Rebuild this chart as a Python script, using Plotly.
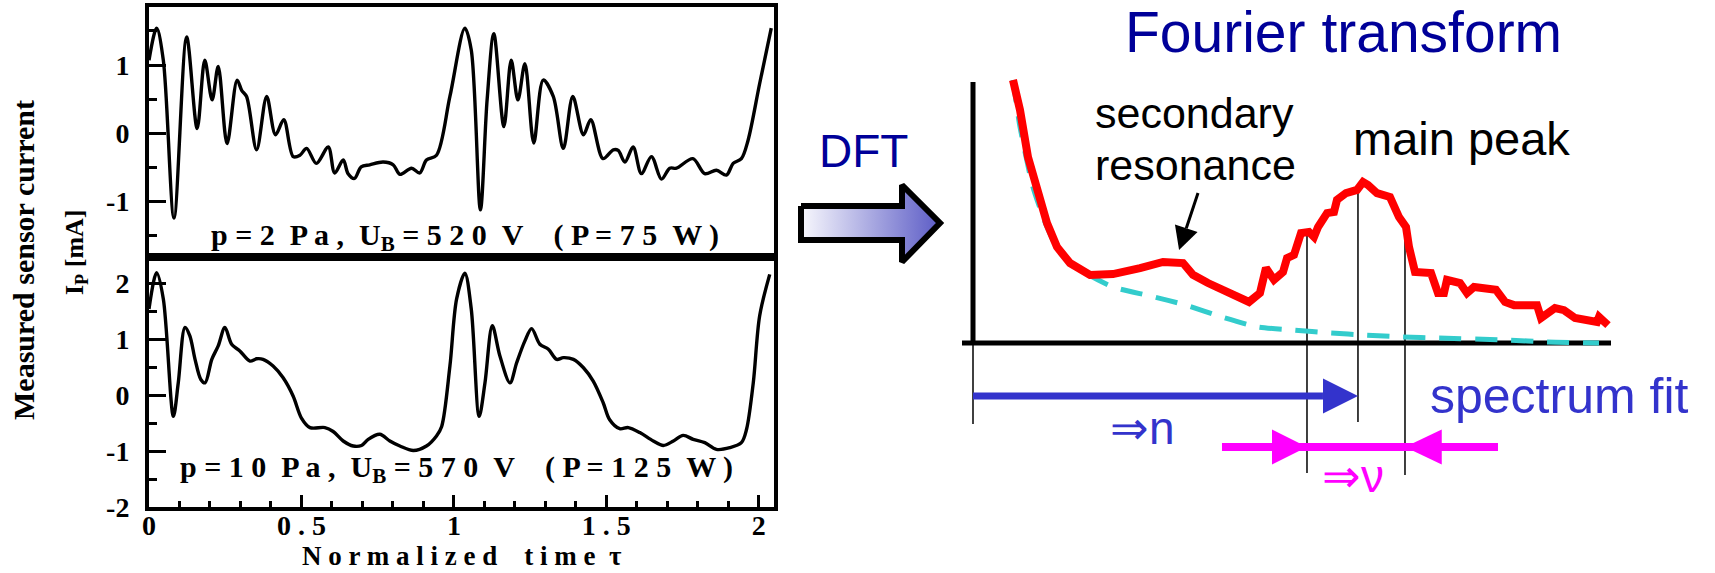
import numpy as np
import plotly.graph_objects as go

W, H = 1715, 573

# Probe current over two normalized RF periods, p = 2 Pa
tau_2pa = [0.0, 0.025, 0.047, 0.082, 0.1235, 0.158, 0.183, 0.207, 0.227, 0.256,
           0.289, 0.304, 0.320, 0.353, 0.386, 0.415, 0.442, 0.473, 0.495, 0.517,
           0.549, 0.588, 0.609, 0.637, 0.653, 0.674, 0.696, 0.724, 0.768, 0.801,
           0.823, 0.861, 0.888, 0.910, 0.943, 0.987, 1.036, 1.057, 1.087, 1.109,
           1.131, 1.164, 1.188, 1.210, 1.233, 1.262, 1.293, 1.326, 1.359, 1.390,
           1.425, 1.449, 1.489, 1.523, 1.539, 1.561, 1.588, 1.615, 1.648, 1.681,
           1.708, 1.730, 1.784, 1.823, 1.861, 1.894, 1.916, 1.943, 1.965, 2.003,
           2.041]
ip_2pa = [1.07, 1.54, 1.07, -1.24, 1.41, 0.07, 1.07, 0.49, 0.98, -0.15,
          0.78, 0.63, 0.54, -0.24, 0.54, -0.02, 0.20, -0.34, -0.32, -0.22,
          -0.44, -0.20, -0.58, -0.39, -0.59, -0.66, -0.49, -0.46, -0.42, -0.46,
          -0.60, -0.51, -0.58, -0.39, -0.32, 0.54, 1.54, 1.22, -1.12, 0.49,
          1.46, 0.10, 1.07, 0.49, 1.02, -0.14, 0.78, 0.54, -0.22, 0.54,
          -0.02, 0.20, -0.37, -0.24, -0.25, -0.42, -0.20, -0.59, -0.34, -0.67,
          -0.51, -0.51, -0.37, -0.59, -0.54, -0.61, -0.44, -0.37, -0.10, 0.73,
          1.54]

# Probe current over two normalized RF periods, p = 10 Pa
tau_10pa = [0.0, 0.025, 0.047, 0.080, 0.096, 0.118, 0.134, 0.151, 0.170, 0.184,
            0.206, 0.227, 0.249, 0.271, 0.298, 0.331, 0.353, 0.374, 0.407, 0.440,
            0.473, 0.500, 0.528, 0.577, 0.604, 0.637, 0.670, 0.697, 0.719, 0.757,
            0.790, 0.823, 0.867, 0.910, 0.943, 0.960, 0.987, 1.009, 1.036, 1.057,
            1.083, 1.102, 1.126, 1.151, 1.184, 1.206, 1.233, 1.255, 1.282, 1.310,
            1.337, 1.359, 1.392, 1.425, 1.457, 1.490, 1.511, 1.544, 1.572, 1.610,
            1.654, 1.687, 1.720, 1.752, 1.785, 1.823, 1.861, 1.905, 1.943, 1.960,
            1.982, 2.003, 2.036]
ip_10pa = [1.54, 2.19, 1.72, -0.38, 0.22, 1.21, 1.06, 0.64, 0.28, 0.22,
           0.64, 0.88, 1.21, 0.91, 0.79, 0.61, 0.65, 0.64, 0.52, 0.31,
           -0.02, -0.41, -0.58, -0.58, -0.65, -0.82, -0.91, -0.90, -0.79, -0.70,
           -0.82, -0.91, -0.99, -0.91, -0.73, -0.56, 0.52, 1.72, 2.18, 1.54,
           -0.38, 0.22, 1.24, 0.70, 0.22, 0.58, 0.97, 1.19, 0.91, 0.82,
           0.64, 0.67, 0.64, 0.49, 0.25, -0.14, -0.44, -0.60, -0.58, -0.67,
           -0.82, -0.90, -0.82, -0.72, -0.79, -0.85, -0.97, -0.94, -0.85, -0.61,
           0.22, 1.42, 2.16]

# Sketch of the Fourier spectrum (arbitrary units, frequency axis 0..100)
spec_freq = [6.27, 7.37, 8.62, 10.03, 11.60, 13.17, 15.20, 18.34, 21.94, 26.18,
             29.78, 32.92, 34.48, 36.83, 41.22, 43.26, 44.98, 45.92, 47.18, 48.59,
             49.22, 50.31, 51.41, 52.66, 53.45, 54.08, 55.49, 56.58, 57.05, 58.46,
             60.19, 61.13, 61.91, 63.32, 65.36, 66.77, 67.87, 68.34, 69.28, 71.79,
             72.88, 73.82, 74.29, 76.33, 77.43, 78.53, 81.97, 83.39, 84.80, 88.40,
             89.03, 89.81, 91.22, 92.63, 94.36, 97.81, 98.12, 99.53]
spec_amp = [100.0, 88.6, 70.7, 58.2, 45.6, 36.5, 30.4, 25.9, 26.2, 28.5,
            30.8, 30.4, 25.9, 22.8, 18.3, 15.6, 19.0, 28.5, 24.0, 27.0,
            32.3, 33.5, 41.8, 42.2, 40.3, 44.1, 49.4, 49.8, 54.4, 57.0,
            58.2, 61.2, 60.1, 57.0, 55.5, 47.9, 44.1, 36.5, 27.0, 26.6,
            19.0, 19.0, 24.0, 22.8, 19.0, 21.3, 20.2, 15.6, 14.4, 14.4,
            9.5, 10.6, 13.3, 12.5, 9.5, 8.0, 9.9, 6.8]

# Smooth background under the spectrum
bg_freq = [6.27, 7.37, 9.40, 11.60, 13.64, 16.77, 21.94, 27.74, 33.39, 39.03,
           44.67, 50.31, 55.96, 61.60, 67.24, 72.88, 84.17, 89.81, 98.12]
bg_amp = [100.0, 82.1, 59.3, 44.1, 34.2, 27.8, 21.3, 17.9, 14.4, 9.9,
          6.1, 4.9, 3.8, 3.0, 2.3, 1.9, 1.1, 0.4, 0.0]

# Frequencies marked by the fit: lower edge, peak, upper edge
fit_lower, fit_peak, fit_upper = 52.35, 60.34, 67.71

x_tickvals = [0, 0.5, 1, 1.5, 2]
x_ticktext = ["0", "0 . 5", "1", "1 . 5", "2"]
top_tickvals = [-1, 0, 1]
bottom_tickvals = [-2, -1, 0, 1, 2]

SERIF = "Liberation Serif"
SANS = "Liberation Sans"
NAVY = "#000099"
BLUE = "#3333CC"
MAGENTA = "#FF00FF"


def px(x):
    return x / W


def py(y):
    return 1 - y / H


# frame of the spectrum sketch: origin and unit lengths in pixels
ORIGIN_X, ORIGIN_Y = 973, 343
PX_PER_F, PX_PER_A = 6.38, 2.63


def fx(x):
    return (x - ORIGIN_X) / PX_PER_F


def ay(y):
    return (ORIGIN_Y - y) / PX_PER_A


LEFT, RIGHT = 149, 774
TOP, MID, BOT = 7, 257, 507

TICK_SIZE = 28
frame = dict(showline=True, linewidth=4, linecolor="black", mirror=True,
             showgrid=False, zeroline=False, automargin=False)
tickfont = dict(family=SERIF, size=TICK_SIZE, color="black")
ytick = dict(ticks="inside", ticklen=17, tickwidth=3, tickcolor="black",
             tickfont=tickfont, ticklabelstandoff=10)


def bold_ticks(vals):
    return ["<b>" + str(v).replace("\u2212", "-") + "</b>" for v in vals]


fig = go.Figure()

wave = dict(color="black", width=3.4, shape="spline", smoothing=0.9)
fig.add_trace(go.Scatter(x=tau_2pa, y=ip_2pa, mode="lines", line=wave,
                         xaxis="x", yaxis="y", hoverinfo="skip"))
fig.add_trace(go.Scatter(x=tau_10pa, y=ip_10pa, mode="lines", line=wave,
                         xaxis="x2", yaxis="y2", hoverinfo="skip"))

# spectrum sketch
fig.add_trace(go.Scatter(x=bg_freq, y=bg_amp, mode="lines",
                         line=dict(color="#33CCCC", width=5, dash="22px,14px",
                                   shape="spline", smoothing=0.6),
                         xaxis="x3", yaxis="y3", hoverinfo="skip"))
fig.add_trace(go.Scatter(x=spec_freq, y=spec_amp, mode="lines",
                         line=dict(color="#FF0000", width=8),
                         xaxis="x3", yaxis="y3", hoverinfo="skip"))

# block arrow "DFT"
arrow_outline = [(801, 206), (902, 206), (902, 185), (940, 223), (902, 262),
                 (902, 240), (801, 240), (801, 206)]
fig.add_trace(go.Scatter(
    x=[fx(p[0]) for p in arrow_outline], y=[ay(p[1]) for p in arrow_outline],
    mode="lines", fill="toself",
    fillgradient=dict(type="horizontal",
                      colorscale=[[0, "#f8f8fd"], [1, "#5c5cc6"]]),
    line=dict(color="black", width=6),
    xaxis="x3", yaxis="y3", hoverinfo="skip"))

shapes = []


def seg(x0, y0, x1, y1, color, width, ref="3", layer="below"):
    xr, yr = ("paper", "paper") if ref == "paper" else ("x" + ref, "y" + ref)
    shapes.append(dict(type="line", xref=xr, yref=yr, x0=x0, y0=y0, x1=x1, y1=y1,
                       line=dict(color=color, width=width), layer=layer))


def tri(pts, color, ref="3"):
    xr, yr = ("paper", "paper") if ref == "paper" else ("x" + ref, "y" + ref)
    path = "M " + " L ".join(f"{x:.4f},{y:.4f}" for x, y in pts) + " Z"
    shapes.append(dict(type="path", xref=xr, yref=yr, path=path,
                       fillcolor=color, line=dict(width=0), layer="above"))


# sketch axes
seg(fx(962), 0, 100, 0, "black", 5)
seg(0, 0, 0, ay(82), "black", 5)
seg(0, 0, 0, ay(424), "black", 1.5)

# marker lines from the curve down to the arrows
for f, y_end in [(fit_lower, ay(473)), (fit_peak, ay(422)), (fit_upper, ay(475))]:
    seg(f, float(np.interp(f, spec_freq, spec_amp)), f, y_end, "black", 1.5)

head_f = 35 / PX_PER_F
half_a = 17.5 / PX_PER_A

# n: arrow from origin to the main peak
a_n = ay(396)
seg(0, a_n, fit_peak - head_f, a_n, BLUE, 7, layer="above")
tri([(fit_peak, a_n), (fit_peak - head_f, a_n + half_a),
     (fit_peak - head_f, a_n - half_a)], BLUE)

# nu: width of the resonance between the two marker lines
a_v = ay(447)
seg(fit_lower - 85 / PX_PER_F, a_v, fit_upper + 93 / PX_PER_F, a_v, MAGENTA, 8,
    layer="above")
tri([(fit_lower, a_v), (fit_lower - head_f, a_v + half_a),
     (fit_lower - head_f, a_v - half_a)], MAGENTA)
tri([(fit_upper, a_v), (fit_upper + head_f * 1.05, a_v + half_a),
     (fit_upper + head_f * 1.05, a_v - half_a)], MAGENTA)

# pointer to the secondary resonance
tail = np.array([1198.0, 193.0])
tip = np.array([1179.0, 250.0])
u = (tip - tail) / np.linalg.norm(tip - tail)
nrm = np.array([-u[1], u[0]])
base = tip - 23 * u
seg(px(tail[0]), py(tail[1]), px(base[0]), py(base[1]), "black", 3, ref="paper",
    layer="above")
tri([(px(tip[0]), py(tip[1])),
     (px((base + 12 * nrm)[0]), py((base + 12 * nrm)[1])),
     (px((base - 12 * nrm)[0]), py((base - 12 * nrm)[1]))], "black", ref="paper")

annotations = []


def label(text, x, baseline, size, color="black", family=SANS, bold=False):
    if bold:
        text = "<b>" + text + "</b>"
    annotations.append(dict(
        text=text, xref="paper", yref="paper", x=px(x), y=py(baseline - 0.35 * size),
        xanchor="center", yanchor="middle", showarrow=False,
        font=dict(family=family, size=size, color=color)))


label("Fourier transform", 1343, 52.3, 57, NAVY)
label("DFT", 863, 167, 46, NAVY)
label("secondary", 1194, 128, 43)
label("resonance", 1195, 180, 43)
label("main peak", 1461, 155, 47)
label("spectrum fit", 1559, 413, 50, BLUE)
label("\u21d2n", 1142, 444, 46, BLUE)
label("\u21d2\u03bd", 1353, 492, 46, MAGENTA)

nb = "\u00a0"
label(f"p = 2{nb}{nb}P a ,{nb}{nb}U<sub>B</sub> = 5 2 0{nb}{nb}V{nb}{nb}{nb}{nb}( P = 7 5{nb}{nb}W )",
      465, 248, 30, family=SERIF, bold=True)
label(f"p = 1 0{nb}{nb}P a ,{nb}{nb}U<sub>B</sub> = 5 7 0{nb}{nb}V{nb}{nb}{nb}{nb}( P = 1 2 5{nb}{nb}W )",
      456, 480, 30, family=SERIF, bold=True)

# axis titles
annotations.append(dict(text="<b>Measured sensor current</b>", xref="paper", yref="paper",
                        x=px(23), y=py(260), xanchor="center", yanchor="middle",
                        textangle=-90, showarrow=False,
                        font=dict(family=SERIF, size=30, color="black")))
annotations.append(dict(text="<b>I<sub>P</sub> [mA]</b>", xref="paper", yref="paper",
                        x=px(76), y=py(252), xanchor="center", yanchor="middle",
                        textangle=-90, showarrow=False,
                        font=dict(family=SERIF, size=26, color="black")))
label(f"N o r m a l i z e d{nb}{nb}{nb}{nb}t i m e{nb}{nb}\u03c4", 462, 565.5, 27,
      family=SERIF, bold=True)

fig.update_layout(
    width=W, height=H, margin=dict(l=0, r=0, t=0, b=0, pad=0, autoexpand=False),
    font=dict(family=SERIF, size=TICK_SIZE, color="black"),
    paper_bgcolor="white", plot_bgcolor="white", showlegend=False,
    xaxis=dict(domain=[px(LEFT), px(RIGHT)], anchor="y", range=[0, 2.05],
               showticklabels=False, ticks="", **frame),
    yaxis=dict(domain=[py(MID), py(TOP)], anchor="x", range=[-1.81, 1.85],
               tickvals=top_tickvals, ticktext=bold_ticks(top_tickvals),
               minor=dict(tickvals=[-1.5, -0.5, 0.5, 1.5], ticks="inside",
                          ticklen=8, tickwidth=3, tickcolor="black"),
               **ytick, **frame),
    xaxis2=dict(domain=[px(LEFT), px(RIGHT)], anchor="y2", range=[0, 2.05],
                tickvals=x_tickvals, ticktext=bold_ticks(x_ticktext),
                ticks="inside", ticklen=12, tickwidth=3, tickcolor="black",
                minor=dict(tick0=0, dtick=0.1, ticks="inside", ticklen=6,
                           tickwidth=3, tickcolor="black"),
                tickfont=tickfont, ticklabelstandoff=-10, **frame),
    yaxis2=dict(domain=[py(BOT), py(MID)], anchor="x2", range=[-2, 2.47],
                tickvals=bottom_tickvals, ticktext=bold_ticks(bottom_tickvals),
                minor=dict(tickvals=[-1.5, -0.5, 0.5, 1.5], ticks="inside",
                           ticklen=8, tickwidth=3, tickcolor="black"),
                **ytick, **frame),
    xaxis3=dict(domain=[px(780), 1], anchor="y3", range=[fx(780), fx(W)],
                visible=False, automargin=False),
    yaxis3=dict(domain=[0, 1], anchor="x3", range=[ay(H), ay(0)], visible=False,
                automargin=False),
    shapes=shapes, annotations=annotations,
)

fig.write_html("out.html")
